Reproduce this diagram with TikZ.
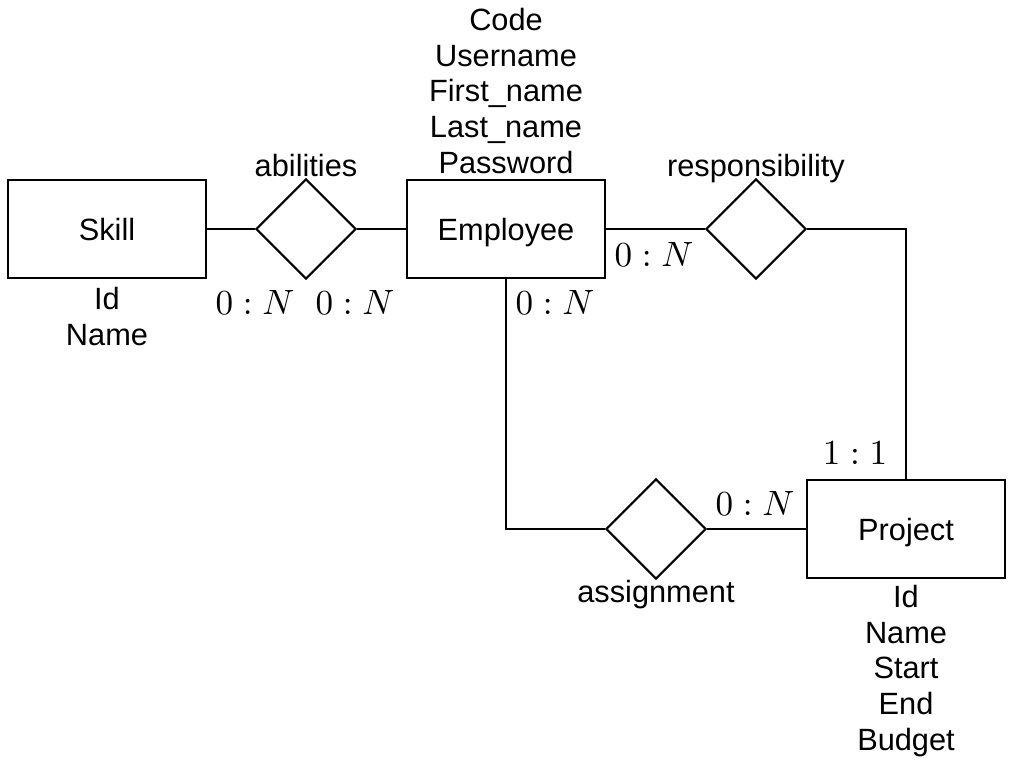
\documentclass[tikz,border=0pt]{standalone}
\usepackage{fontspec}
\setmainfont{Liberation Sans}
\usetikzlibrary{shapes.geometric}
\begin{document}
\begin{tikzpicture}[x=0.02cm,y=-0.02cm,
  ent/.style={draw,line width=1.2pt,minimum width=3.969cm,minimum height=1.969cm,inner sep=0pt,text depth=0pt,font=\fontsize{17.5}{20.2}\selectfont},
  rel/.style={draw,line width=1.2pt,diamond,minimum width=2cm,minimum height=2cm,inner sep=0pt},
  conn/.style={line width=1.2pt},
  lbl/.style={font=\fontsize{17.5}{20.2}\selectfont,inner sep=0pt,text depth=0pt},
  attr/.style={font=\fontsize{17.5}{20.3}\selectfont,align=center,inner sep=0pt},
  card/.style={scale=2,inner sep=0pt}]
\useasboundingbox (0,0) rectangle (1021,761);
\node[ent] (skill) at (107,229) {Skill};
\node[rel] (abil) at (306,229) {};
\node[ent] (emp) at (506,229) {Employee};
\node[rel] (resp) at (756,229) {};
\node[ent] (proj) at (906,529) {Project};
\node[rel] (assg) at (656,529) {};
\coordinate (rc) at (906,229);
\coordinate (ac) at (506,529);
\draw[conn] (skill.east) -- (abil.west);
\draw[conn] (abil.east) -- (emp.west);
\draw[conn] (emp.east) -- (resp.west);
\draw[conn] (resp.east) -- (rc) -- (proj.north);
\draw[conn] (emp.south) -- (ac) -- (assg.west);
\draw[conn] (assg.east) -- (proj.west);
\node[lbl] (labil) at (306,165) {abilities};
\node[lbl] (lresp) at (756,165) {responsibility};
\node[lbl] (lassg) at (656,591) {assignment};
\node[attr,anchor=north] (aemp) at (506,8) {Code\\Username\\First\_name\\Last\_name\\Password};
\node[attr,anchor=north] (askill) at (107,287) {Id\\Name};
\node[attr,anchor=north] (aproj) at (906,585) {Id\\Name\\Start\\End\\Budget};
\node[card] (c1) at (255,302) {$0:N$};
\node[card] (c2) at (355,302) {$0:N$};
\node[card] (c3) at (555,302) {$0:N$};
\node[card] (c4) at (654,254) {$0:N$};
\node[card] (c5) at (755,503) {$0:N$};
\node[card] (c6) at (855,453) {$1:1$};
\end{tikzpicture}
\end{document}
